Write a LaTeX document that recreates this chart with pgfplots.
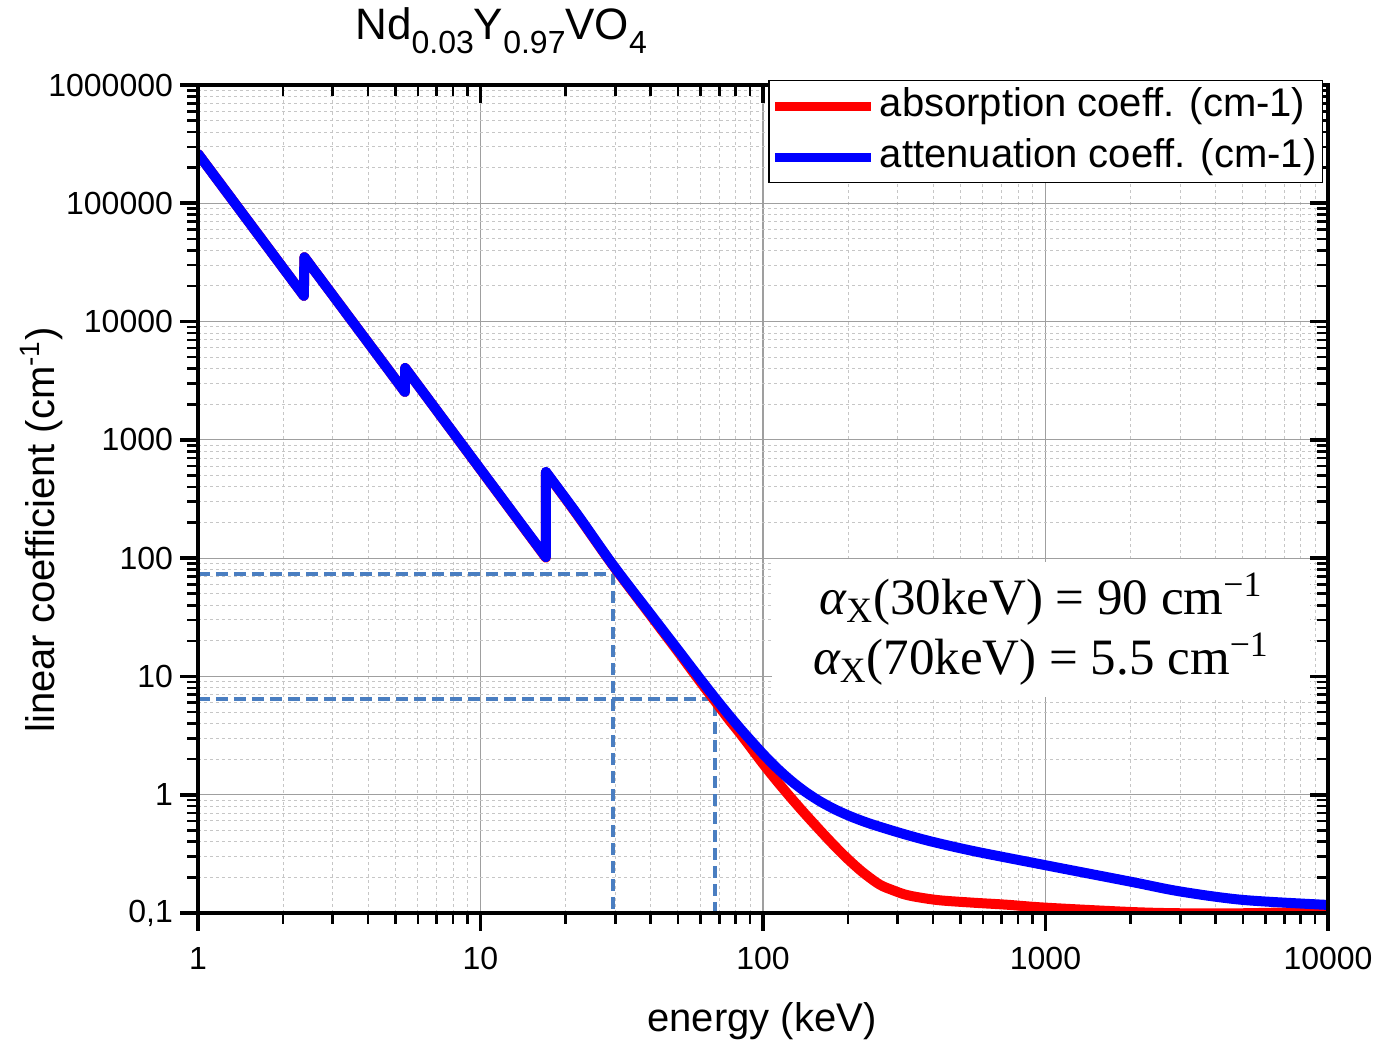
\documentclass[border=0pt]{standalone}
\usepackage{fontspec}
\setmainfont{Liberation Sans}
\newfontfamily\serifann{Liberation Serif}
\usepackage{pgfplots}
\pgfplotsset{compat=1.18}

\definecolor{dashblue}{RGB}{74,126,193}

\begin{document}
\begin{tikzpicture}
\begin{axis}[
  at={(0,0)}, anchor=south west,
  scale only axis, width=565pt, height=414pt,
  xmode=log, ymode=log,
  xmin=1, xmax=10000, ymin=0.1, ymax=1000000,
  xtick={1,10,100,1000,10000},
  ytick={0.1,1,10,100,1000,10000,100000,1000000},
  minor xtick={2,3,4,5,6,7,8,9,20,30,40,50,60,70,80,90,200,300,400,500,600,700,800,900,2000,3000,4000,5000,6000,7000,8000,9000},
  minor ytick={0.2,0.3,0.4,0.5,0.6,0.7,0.8,0.9,2,3,4,5,6,7,8,9,20,30,40,50,60,70,80,90,200,300,400,500,600,700,800,900,2000,3000,4000,5000,6000,7000,8000,9000,20000,30000,40000,50000,60000,70000,80000,90000,200000,300000,400000,500000,600000,700000,800000,900000},
  major tick length=9pt, minor tick length=5.5pt,
  every major tick/.append style={black, line width=1.8pt},
  every minor tick/.append style={black, line width=1.3pt},
  axis line style={line width=2pt, line cap=rect},
  xticklabels={1,10,100,1000,10000},
  yticklabels={{0,1},1,10,100,1000,10000,100000,1000000},
  xtick pos=left, ytick pos=left,
  tick align=outside,
  grid=both,
  major grid style={gray!75, line width=0.6pt, solid},
  minor grid style={gray!45, line width=0.5pt, dash pattern=on 1.5pt off 1.5pt},
  tick label style={font=\fontsize{16}{19}\selectfont},
  xticklabel style={yshift=-4.5pt},
  clip mode=individual,
]
\addplot[dashblue, line width=2pt, dash pattern=on 6pt off 3pt] coordinates {(1,74) (29.4,74) (29.4,0.1)};
\addplot[dashblue, line width=2pt, dash pattern=on 6pt off 3pt] coordinates {(1,6.4) (67.6,6.4) (67.6,0.1)};

\addplot[red, line width=5pt, line join=round, line cap=round] coordinates {
(1,262000) (2.37,16500) (2.38,35000) (5.40,2540) (5.41,4050) (17.04,101) (17.05,532)};
\addplot[red, line width=5pt, line join=round, line cap=round, smooth, tension=0.5] coordinates {
(17.05,532) (22,232) (29.4,87) (40,32.8) (50,16.2) (60,9.0) (67.6,6.2) (75,4.45) (82.9,3.30)
(90,2.55) (99.7,1.844) (110,1.373) (124.6,0.962) (140,0.70) (158.5,0.505) (177.8,0.377)
(199.5,0.2866) (223.9,0.2239) (251.2,0.182) (266.1,0.168) (281.8,0.159) (316.2,0.1439)
(354.8,0.1358) (423,0.128) (555,0.1222) (729,0.1175) (1000,0.111) (2000,0.102)
(3000,0.0995) (5000,0.0995) (10000,0.103)};

\addplot[blue, line width=5pt, line join=round, line cap=round] coordinates {
(1,262000) (2.37,16500) (2.38,35000) (5.40,2540) (5.41,4050) (17.04,102) (17.05,535)};
\addplot[blue, line width=5pt, line join=round, line cap=round, smooth, tension=0.5] coordinates {
(17.05,535) (22,235) (29.4,88) (40,33.6) (50,16.8) (60,9.5) (67.6,6.6) (75,4.85) (83.2,3.61)
(90,2.92) (100,2.21) (112.2,1.673) (125.9,1.308) (141.3,1.057) (158.5,0.884) (177.8,0.761)
(199.5,0.671) (223.9,0.602) (251.2,0.548) (316.2,0.464) (398.1,0.400) (562.3,0.332)
(1000,0.2535) (2000,0.184) (3000,0.152) (5000,0.129) (10000,0.117)};

\node[fill=white, inner sep=0pt, minimum width=269pt, minimum height=67.5pt, align=center,
  font=\serifann\fontsize{25.5}{30}\selectfont] at (axis cs:964,24.9)
  {{\itshape α}\textsubscript{X}(30keV) = 90 cm\textsuperscript{−1}\\
   {\itshape α}\textsubscript{X}(70keV) = 5.5 cm\textsuperscript{−1}};
\end{axis}

% mirrored (inward) ticks on top and right, plus the legend on top of everything
\begin{axis}[
  at={(0,0)}, anchor=south west,
  scale only axis, width=565pt, height=414pt,
  xmode=log, ymode=log,
  xmin=1, xmax=10000, ymin=0.1, ymax=1000000,
  xtick={1,10,100,1000,10000},
  ytick={0.1,1,10,100,1000,10000,100000,1000000},
  minor xtick={2,3,4,5,6,7,8,9,20,30,40,50,60,70,80,90,200,300,400,500,600,700,800,900,2000,3000,4000,5000,6000,7000,8000,9000},
  minor ytick={0.2,0.3,0.4,0.5,0.6,0.7,0.8,0.9,2,3,4,5,6,7,8,9,20,30,40,50,60,70,80,90,200,300,400,500,600,700,800,900,2000,3000,4000,5000,6000,7000,8000,9000,20000,30000,40000,50000,60000,70000,80000,90000,200000,300000,400000,500000,600000,700000,800000,900000},
  major tick length=9pt, minor tick length=5.5pt,
  every major tick/.append style={black, line width=1.8pt},
  every minor tick/.append style={black, line width=1.3pt},
  axis line style={line width=2pt, line cap=rect},
  xticklabels={}, yticklabels={},
  xtick pos=right, ytick pos=right,
  tick align=inside,
  legend cell align=left,
  legend image code/.code={\draw[#1, line width=4.5pt] (0pt,0pt) -- (48pt,0pt);},
  legend style={at={(0.9956,1.006)}, anchor=north east, draw=black, line width=0.6pt, fill=white,
    font=\fontsize{20}{24}\selectfont, inner xsep=1pt, inner ysep=0pt,
    nodes={inner sep=2pt, text height=16pt, text depth=5.5pt}},
]
\addplot[draw=none, forget plot] coordinates {(1,1) (10,10)};
\addlegendimage{red, line width=5pt}
\addlegendentry{absorption coeff. (cm-1)}
\addlegendimage{blue, line width=5pt}
\addlegendentry{attenuation coeff. (cm-1)}
\end{axis}

\node[anchor=base west, inner sep=0pt, font=\fontsize{22}{26}\selectfont] at (78.5pt,436.5pt)
  {Nd\raisebox{-7pt}{\fontsize{16}{16}\selectfont 0.03}Y\raisebox{-7pt}{\fontsize{16}{16}\selectfont 0.97}VO\raisebox{-7pt}{\fontsize{16}{16}\selectfont 4}};
\node[anchor=base, inner sep=0pt, font=\fontsize{20}{24}\selectfont] at (282pt,-59.5pt) {energy (keV)};
\node[anchor=base, rotate=90, inner sep=0pt, font=\fontsize{20}{24}\selectfont] at (-71.5pt,191.5pt)
  {linear coefficient (cm\textsuperscript{-1})};

\pgfresetboundingbox
\useasboundingbox (-99pt,-64.5pt) rectangle (590.5pt,456.5pt);
\end{tikzpicture}
\end{document}
